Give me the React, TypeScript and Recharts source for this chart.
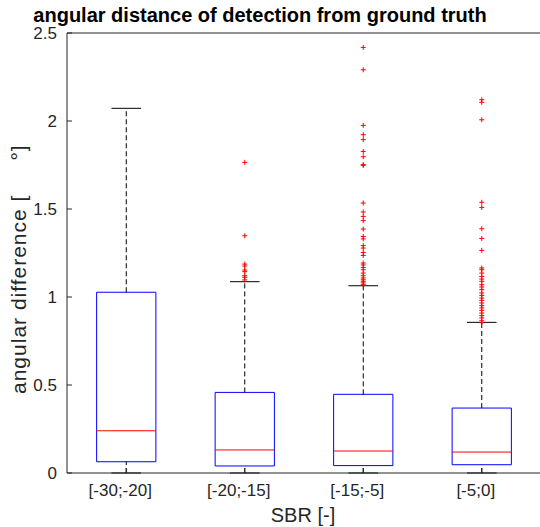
import React from 'react';
import {
  ScatterChart,
  Scatter,
  XAxis,
  YAxis,
  ReferenceArea,
  ReferenceLine,
} from 'recharts';

// ---------- data ----------
const categories = ['[-30;-20]', '[-20;-15]', '[-15;-5]', '[-5;0]'];
const lowerWhisker = [0, 0, 0, 0];
const q1 = [0.064, 0.04, 0.042, 0.047];
const median = [0.24, 0.131, 0.125, 0.119];
const q3 = [1.027, 0.458, 0.447, 0.369];
const upperWhisker = [2.072, 1.087, 1.064, 0.856];

const outliers1: number[] = [];
const outliers2 = [1.765, 1.348, 1.187, 1.176, 1.153, 1.144, 1.121, 1.112, 1.097];
const outliers3 = [
  2.418, 2.291, 1.975, 1.922, 1.894, 1.827, 1.797, 1.752, 1.748, 1.534, 1.483,
  1.458, 1.434, 1.386, 1.344, 1.33, 1.292, 1.278, 1.253, 1.236, 1.193, 1.182,
  1.168, 1.155, 1.136, 1.121, 1.108, 1.098, 1.089, 1.08, 1.07,
];
const outliers4 = [
  2.121, 2.106, 2.007, 1.538, 1.509, 1.388, 1.333, 1.265, 1.165, 1.155, 1.136,
  1.117, 1.102, 1.089, 1.07, 1.057, 1.042, 1.023, 1.009, 0.994, 0.981, 0.966,
  0.951, 0.938, 0.924, 0.909, 0.894, 0.881, 0.865, 0.854,
];
const outlierGroups = [outliers1, outliers2, outliers3, outliers4];

const xTicks = [1, 2, 3, 4];
const yTicks = [0, 0.5, 1, 1.5, 2, 2.5];

const titleText = 'angular distance of detection from ground truth';
const xLabelText = 'SBR [-]';

// ---------- styling constants ----------
const BOX_HALF = 0.25;
const CAP_HALF = 0.125;
const AXIS_COLOR = '#262626';
const FONT = 'Liberation Sans, Arial, Helvetica, sans-serif';

const outlierData = outlierGroups.flatMap((g, i) =>
  g.map((v) => ({ x: i + 1, y: v }))
);

const PlusShape = (props: any) => {
  const { cx, cy } = props;
  if (cx == null || cy == null) return null;
  const h = 2.5;
  return (
    <path
      d={`M${cx - h},${cy}H${cx + h}M${cx},${cy - h}V${cy + h}`}
      stroke="#ff0000"
      strokeWidth={1}
      fill="none"
    />
  );
};

const XTick = (props: any) => {
  const { x, y, payload } = props;
  return (
    <text
      x={x - 6}
      y={y}
      dy={12}
      textAnchor="middle"
      fontSize={17}
      fontFamily={FONT}
      fill={AXIS_COLOR}
    >
      {categories[payload.value - 1]}
    </text>
  );
};

const YTick = (props: any) => {
  const { x, y, payload } = props;
  return (
    <text
      x={x}
      y={y}
      dy={6}
      textAnchor="end"
      fontSize={17}
      fontFamily={FONT}
      fill={AXIS_COLOR}
    >
      {String(payload.value)}
    </text>
  );
};

const TitleLabel = () => (
  <text
    x={260}
    y={22}
    textAnchor="middle"
    fontSize={20}
    fontWeight="bold"
    fontFamily={FONT}
    fill="#000"
  >
    {titleText}
  </text>
);

const XLabel = () => (
  <text
    x={303}
    y={522}
    textAnchor="middle"
    fontSize={20}
    fontFamily={FONT}
    fill={AXIS_COLOR}
  >
    {xLabelText}
  </text>
);

const YLabel = () => (
  <text
    x={0}
    y={0}
    transform="translate(26,394) rotate(-90)"
    textAnchor="start"
    fontSize={21}
    letterSpacing={1}
    fontFamily={FONT}
    fill={AXIS_COLOR}
  >
    angular difference [<tspan dx={34}>°]</tspan>
  </text>
);

export default function App() {
  return (
    <div
      style={{
        position: 'absolute',
        left: 0,
        top: 0,
        width: 540,
        height: 527,
        overflow: 'hidden',
        background: '#fff',
      }}
    >
      <ScatterChart
        width={542}
        height={527}
        margin={{ top: 32, right: 0, bottom: 14, left: 0 }}
      >
        <XAxis
          xAxisId={0}
          type="number"
          dataKey="x"
          domain={[0.5, 4.5]}
          ticks={xTicks}
          allowDataOverflow
          height={40}
          stroke={AXIS_COLOR}
          tickSize={-5}
          tickMargin={16}
          tick={<XTick />}
          label={{ content: <XLabel /> }}
        />
        <XAxis
          xAxisId="top"
          orientation="top"
          type="number"
          domain={[0.5, 4.5]}
          ticks={xTicks}
          allowDataOverflow
          height={1}
          stroke={AXIS_COLOR}
          tickSize={-5}
          tick={false}
          label={{ content: <TitleLabel /> }}
        />
        <YAxis
          yAxisId={0}
          type="number"
          dataKey="y"
          domain={[0, 2.5]}
          ticks={yTicks}
          allowDataOverflow
          width={67}
          stroke={AXIS_COLOR}
          tickSize={-5}
          tickMargin={15}
          tick={<YTick />}
          label={{ content: <YLabel /> }}
        />
        <YAxis
          yAxisId="right"
          orientation="right"
          type="number"
          domain={[0, 2.5]}
          ticks={yTicks}
          allowDataOverflow
          width={1}
          stroke={AXIS_COLOR}
          tickSize={-5}
          tick={false}
        />

        {categories.map((c, i) => {
          const x = i + 1;
          return (
            <React.Fragment key={c}>
              <ReferenceLine
                segment={[
                  { x, y: q3[i] },
                  { x, y: upperWhisker[i] },
                ]}
                stroke="#000"
                strokeWidth={1}
                strokeDasharray="5 3"
                ifOverflow="visible"
              />
              <ReferenceLine
                segment={[
                  { x, y: lowerWhisker[i] },
                  { x, y: q1[i] },
                ]}
                stroke="#000"
                strokeWidth={1}
                strokeDasharray="5 3"
                ifOverflow="visible"
              />
              <ReferenceLine
                segment={[
                  { x: x - CAP_HALF, y: upperWhisker[i] },
                  { x: x + CAP_HALF, y: upperWhisker[i] },
                ]}
                stroke="#000"
                strokeWidth={1}
                ifOverflow="visible"
              />
              <ReferenceLine
                segment={[
                  { x: x - CAP_HALF, y: lowerWhisker[i] },
                  { x: x + CAP_HALF, y: lowerWhisker[i] },
                ]}
                stroke="#000"
                strokeWidth={1}
                ifOverflow="visible"
              />
              <ReferenceArea
                x1={x - BOX_HALF}
                x2={x + BOX_HALF}
                y1={q1[i]}
                y2={q3[i]}
                fill="none"
                fillOpacity={0}
                stroke="#0000ff"
                strokeWidth={1}
                strokeOpacity={1}
                ifOverflow="visible"
              />
              <ReferenceLine
                segment={[
                  { x: x - BOX_HALF, y: median[i] },
                  { x: x + BOX_HALF, y: median[i] },
                ]}
                stroke="#ff0000"
                strokeWidth={1}
                ifOverflow="visible"
              />
            </React.Fragment>
          );
        })}

        <Scatter
          data={outlierData}
          dataKey="y"
          shape={<PlusShape />}
          isAnimationActive={false}
        />
      </ScatterChart>
    </div>
  );
}
